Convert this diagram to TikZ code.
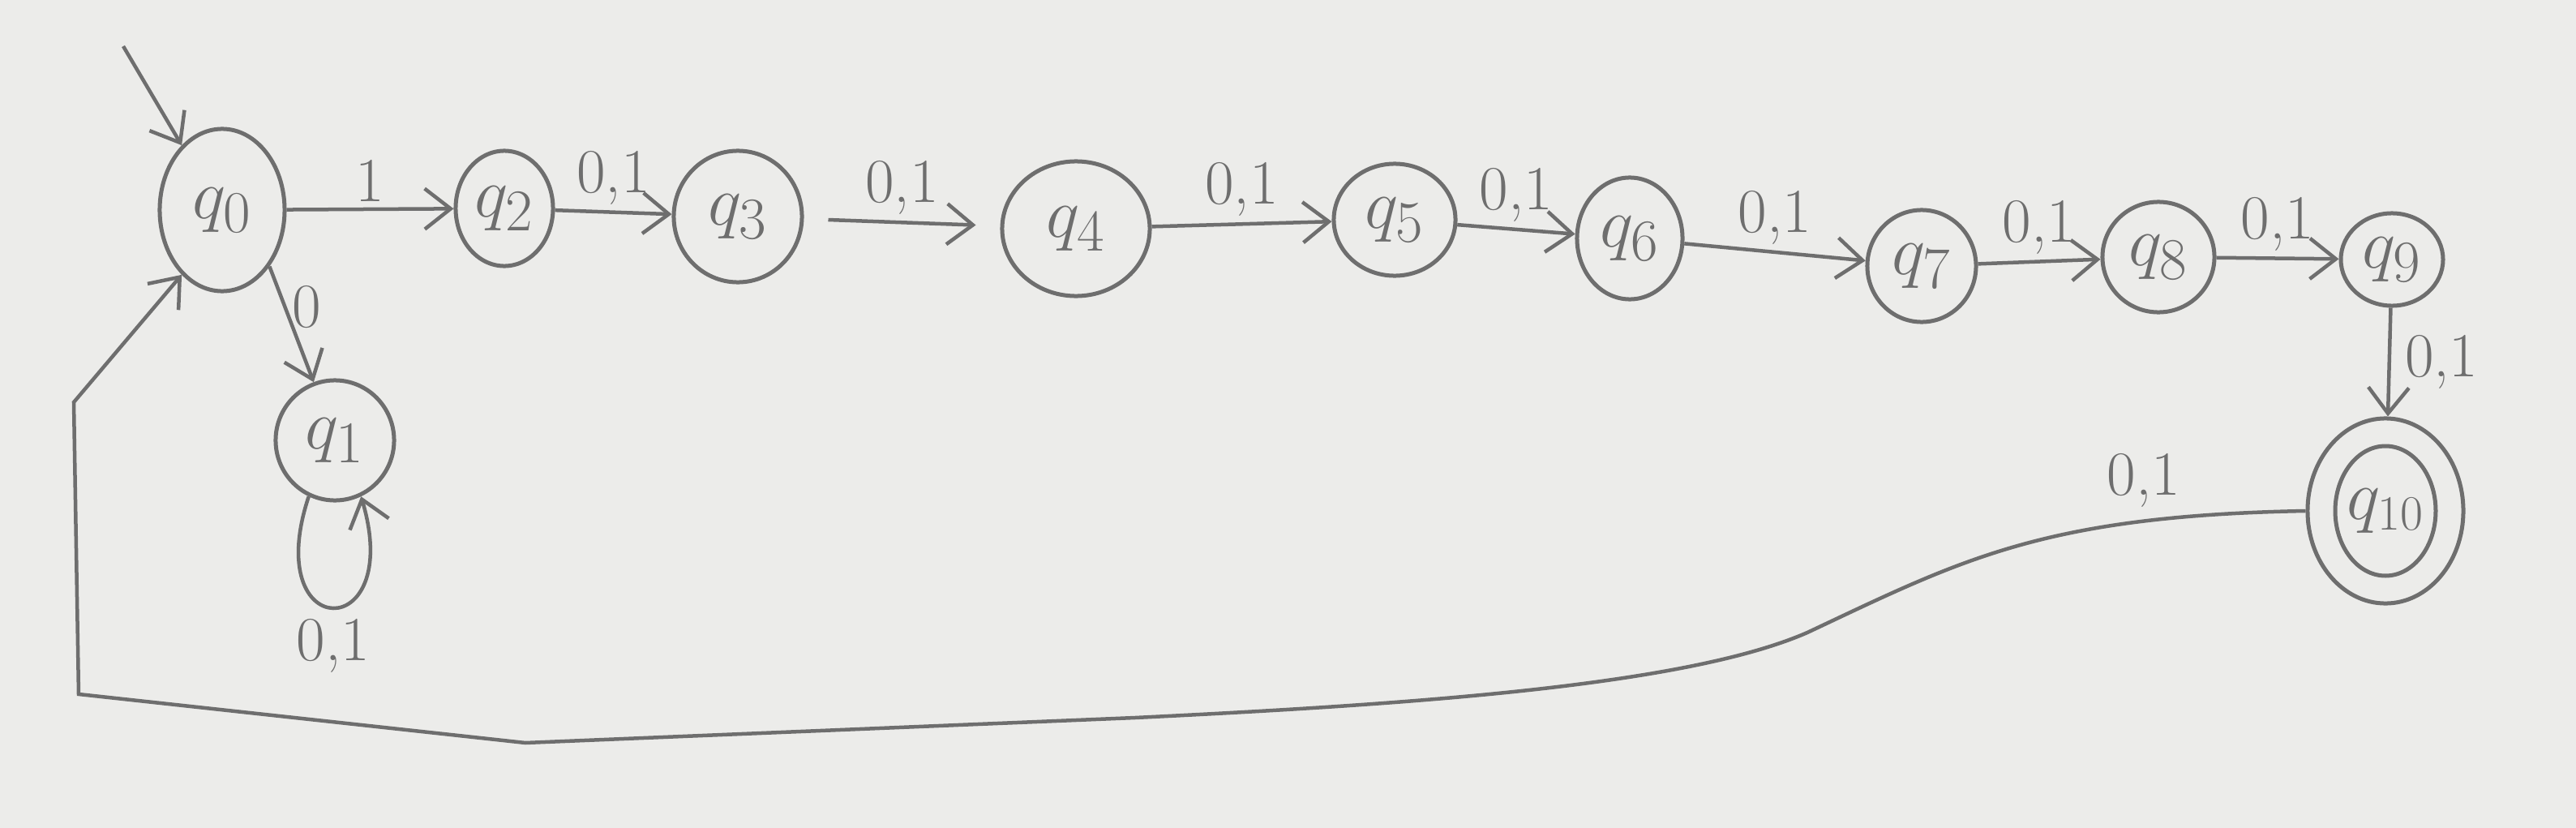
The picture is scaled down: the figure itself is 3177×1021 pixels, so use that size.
\documentclass[tikz,border=0pt]{standalone}
\usetikzlibrary{shapes.geometric,arrows.meta}
\definecolor{paper}{RGB}{236,236,234}
\definecolor{pencil}{RGB}{110,110,110}
\begin{document}
\begin{tikzpicture}[x=0.01cm,y=-0.01cm,
  st/.style={draw=pencil, ellipse, inner sep=0pt, line width=0.05cm, text=pencil,
    font=\fontsize{30}{34}\selectfont},
  tr/.style={draw=pencil, line width=0.045cm, -{Straight Barb[length=0.32cm,width=0.5cm,line width=0.045cm]}},
  lbl/.style={text=pencil, font=\fontsize{22}{26}\selectfont, inner sep=2pt}]
\fill[paper] (0,0) rectangle (3177,1021);
\useasboundingbox (0,0) rectangle (3177,1021);
% states
\node[st, minimum width=1.54cm, minimum height=2.0cm] (q0) at (274,259) {$q_0$};
\node[st, minimum width=1.46cm, minimum height=1.48cm] (q1) at (413,543) {$q_1$};
\node[st, minimum width=1.20cm, minimum height=1.42cm] (q2) at (622,257) {$q_2$};
\node[st, minimum width=1.58cm, minimum height=1.62cm] (q3) at (910,267) {$q_3$};
\node[st, minimum width=1.82cm, minimum height=1.66cm] (q4) at (1327,282) {$q_4$};
\node[st, minimum width=1.50cm, minimum height=1.38cm] (q5) at (1720,271) {$q_5$};
\node[st, minimum width=1.30cm, minimum height=1.50cm] (q6) at (2010,294) {$q_6$};
\node[st, minimum width=1.34cm, minimum height=1.38cm] (q7) at (2370,328) {$q_7$};
\node[st, minimum width=1.38cm, minimum height=1.36cm] (q8) at (2662,317) {$q_8$};
\node[st, minimum width=1.26cm, minimum height=1.14cm] (q9) at (2950,320) {$q_9$};
\node[st, minimum width=1.92cm, minimum height=2.28cm, font=\fontsize{26}{30}\selectfont] (q10) at (2942,630) {$q_{10}$};
\draw[pencil, line width=0.05cm] (q10.center) ellipse [x radius=62, y radius=80];
% initial arrow
\coordinate (init) at (152,57);
\draw[tr] (init) -- (q0.122);
% chain
\draw[tr] (q0) -- node[lbl, above] {1} (q2);
\draw[tr] (q2) -- node[lbl, above] {0,1} (q3);
\draw[tr, shorten <=0.3cm, shorten >=0.3cm] (q3) -- node[lbl, above] {0,1} (q4);
\draw[tr] (q4) -- node[lbl, above] {0,1} (q5);
\draw[tr] (q5) -- node[lbl, above] {0,1} (q6);
\draw[tr] (q6) -- node[lbl, above] {0,1} (q7);
\draw[tr] (q7) -- node[lbl, above] {0,1} (q8);
\draw[tr] (q8) -- node[lbl, above] {0,1} (q9);
\draw[tr] (q9) -- node[lbl, right, xshift=0.1cm] {0,1} (q10);
% q0 -> q1
\draw[tr] (q0.-50) -- node[lbl, right, pos=0.35] {0} (q1.110);
% loop on q1
\draw[tr] (q1.245) .. controls (320,795) and (500,795) .. node[lbl, below, pos=0.5, yshift=-0.05cm] {0,1} (q1.295);
% return edge
\coordinate (b1) at (2229,780);
\coordinate (b2) at (1400,885);
\coordinate (b3) at (648,916);
\coordinate (b4) at (97,856);
\coordinate (b5) at (91,496);
\draw[tr] (q10.west) .. controls (2520,636) and (2420,690) .. (b1)
  .. controls (2080,845) and (1750,868) .. (b2) -- (b3) -- (b4) -- (b5) -- (q0.238);
\node[lbl] (rl) at (2644,592) {0,1};
\end{tikzpicture}
\end{document}
